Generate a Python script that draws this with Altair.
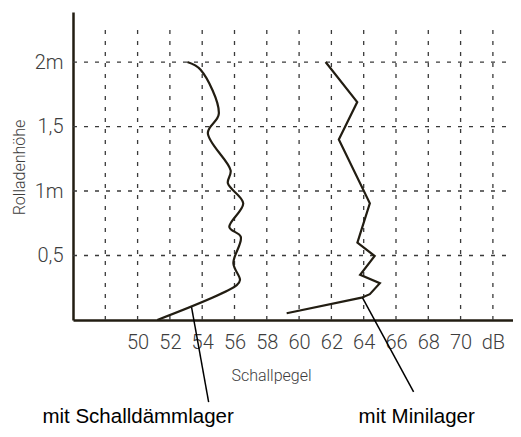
import altair as alt
import pandas as pd

# --- data ---
left_x = [53.08, 53.90, 55.03, 54.35, 55.76, 55.59, 56.54, 55.68, 56.39, 55.93, 56.34, 56.14, 51.22]
left_y = [2.00, 1.94, 1.60, 1.45, 1.16, 1.06, 0.905, 0.72, 0.645, 0.44, 0.31, 0.27, 0.0]
right_x = [61.64, 63.60, 62.46, 64.38, 63.61, 64.68, 63.78, 65.00, 64.38, 63.87, 59.23]
right_y = [2.00, 1.69, 1.40, 0.905, 0.60, 0.496, 0.35, 0.285, 0.20, 0.173, 0.052]

x_tick_values = [50, 52, 54, 56, 58, 60, 62, 64, 66, 68, 70, 72]
x_tick_labels = ["50", "52", "54", "56", "58", "60", "62", "64", "66", "68", "70", "dB"]
y_tick_values = [0.5, 1.0, 1.5, 2.0]
y_tick_labels = ["0,5", "1m", "1,5", "2m"]

grid_x = [48, 50, 52, 54, 56, 58, 60, 62, 64, 66, 68, 70, 72]
grid_y = [0.5, 1.0, 1.5, 2.0]

x_min, x_max = 46, 73.245
y_min, y_max = 0, 2.388
grid_top = 2.25

ann_text = ["mit Schalldämmlager", "mit Minilager"]
ann_tx = [50.03, 67.28]
ann_ty = [-0.80, -0.80]
lead_x = [53.34, 63.93]
lead_y = [0.10, 0.171]
lead_x2 = [54.40, 67.09]
lead_y2 = [-0.636, -0.558]

NARROW = "Roboto, Liberation Sans, sans-serif"
INK = "#221d12"
GREY_TXT = "#3d3d3d"

left_df = pd.DataFrame({"x": left_x, "y": left_y, "i": range(len(left_x))})
right_df = pd.DataFrame({"x": right_x, "y": right_y, "i": range(len(right_x))})
vgrid_df = pd.DataFrame({"x": grid_x, "y": [0] * len(grid_x), "y2": [grid_top] * len(grid_x)})
hgrid_df = pd.DataFrame({"y": grid_y, "x": [x_min] * len(grid_y), "x2": [x_max] * len(grid_y)})
lead_df = pd.DataFrame({"x": lead_x, "y": lead_y, "x2": lead_x2, "y2": lead_y2})
text_df = pd.DataFrame({"x": ann_tx, "y": ann_ty, "t": ann_text})

x_label_expr = " : ".join(
    f"datum.value == {v} ? '{l}'" for v, l in zip(x_tick_values, x_tick_labels)
) + " : ''"
y_label_expr = " : ".join(
    f"datum.value == {v} ? '{l}'" for v, l in zip(y_tick_values, y_tick_labels)
) + " : ''"

xs = alt.Scale(domain=[x_min, x_max], nice=False, zero=False)
ys = alt.Scale(domain=[y_min, y_max], nice=False, zero=False)

xaxis = alt.Axis(
    title="Schallpegel", values=x_tick_values, labelExpr=x_label_expr,
    grid=False, ticks=False, domainColor=INK, domainWidth=2.5,
    labelFont=NARROW, labelFontSize=20, labelFontWeight=300, labelColor=GREY_TXT, labelPadding=12,
    titleFont=NARROW, titleFontSize=16, titleColor=GREY_TXT, titleFontWeight=300,
    titlePadding=15, titleX=198, titleAlign="center",
)
yaxis = alt.Axis(
    title="Rolladenhöhe", values=y_tick_values, labelExpr=y_label_expr,
    grid=False, ticks=False, domainColor=INK, domainWidth=2.5,
    labelFont=NARROW, labelFontSize=20, labelFontWeight=300, labelColor=GREY_TXT, labelPadding=10,
    titleFont=NARROW, titleFontSize=16, titleColor=GREY_TXT, titleFontWeight=300,
    titleX=-46, titleY=155,
)

vgrid = alt.Chart(vgrid_df).mark_rule(strokeDash=[4, 7], color="#3a3a3a", strokeWidth=1.3).encode(
    x=alt.X("x:Q", scale=xs, axis=xaxis), y=alt.Y("y:Q", scale=ys, axis=yaxis), y2="y2:Q"
)
hgrid = alt.Chart(hgrid_df).mark_rule(strokeDash=[4, 7], color="#3a3a3a", strokeWidth=1.3).encode(
    y=alt.Y("y:Q", scale=ys, axis=yaxis), x=alt.X("x:Q", scale=xs, axis=xaxis), x2="x2:Q"
)
left_line = alt.Chart(left_df).mark_line(color=INK, strokeWidth=2.2, interpolate="catmull-rom").encode(
    x=alt.X("x:Q", scale=xs, axis=xaxis), y=alt.Y("y:Q", scale=ys, axis=yaxis), order="i:Q"
)
right_line = alt.Chart(right_df).mark_line(color=INK, strokeWidth=2.2).encode(
    x=alt.X("x:Q", scale=xs, axis=xaxis), y=alt.Y("y:Q", scale=ys, axis=yaxis), order="i:Q"
)
leaders = alt.Chart(lead_df).mark_rule(color="black", strokeWidth=1.5).encode(
    x=alt.X("x:Q", scale=xs, axis=xaxis), y=alt.Y("y:Q", scale=ys, axis=yaxis), x2="x2:Q", y2="y2:Q"
)
texts = alt.Chart(text_df).mark_text(
    font="Liberation Sans, Arial, sans-serif", fontSize=20.5, baseline="alphabetic", align="center", color="black"
).encode(
    x=alt.X("x:Q", scale=xs, axis=xaxis), y=alt.Y("y:Q", scale=ys, axis=yaxis), text="t:N"
)

chart = alt.layer(vgrid, hgrid, left_line, right_line, leaders, texts).properties(
    width=440, height=308,
    autosize=alt.AutoSizeParams(type="none"),
    padding={"left": 65, "top": 4, "right": 0, "bottom": 112},
    background="white",
).configure_view(stroke=None)

chart.save("out.html", embed_options={"renderer": "svg", "actions": False})
